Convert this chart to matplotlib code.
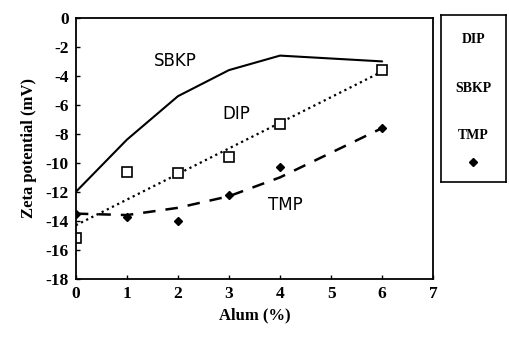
import numpy as np
import matplotlib
matplotlib.use('Agg')
from matplotlib import pyplot as plt

plt.rcParams['axes.unicode_minus'] = False

# values
alum = [0, 1, 2, 3, 4, 6]
sbkp = [-12.0, -8.4, -5.4, -3.6, -2.6, -3.0]
dip = [-15.2, -10.6, -10.7, -9.6, -7.3, -3.6]
dip_line_x = [0, 6]
dip_line_y = [-14.3, -3.7]
tmp = [-13.5, -13.7, -14.0, -12.2, -10.3, -7.6]
tmp_curve = [-13.5, -13.6, -13.1, -12.3, -11.0, -7.6]

xticks = [0, 1, 2, 3, 4, 5, 6, 7]
yticks = [0, -2, -4, -6, -8, -10, -12, -14, -16, -18]

serif = 'Liberation Serif'

fig = plt.figure(figsize=(5.09, 3.38), dpi=100)
ax = fig.add_axes([0.149, 0.175, 0.702, 0.772])

ax.plot(alum, sbkp, color='black', lw=1.5, solid_capstyle='round')
ax.plot(dip_line_x, dip_line_y, color='black', lw=1.6, linestyle=(0, (1, 1.6)))
ax.plot(alum, dip, linestyle='none', marker='s', ms=6.5, mfc='white', mec='black', mew=1.2)
ax.plot(alum, tmp_curve, color='black', lw=1.8, linestyle=(0, (5, 4)))
ax.plot(alum, tmp, linestyle='none', marker='D', ms=4, color='black')

ax.text(1.95, -3.0, 'SBKP', fontsize=12, ha='center', va='center', family='DejaVu Sans')
ax.text(3.15, -6.6, 'DIP', fontsize=12, ha='center', va='center', family='DejaVu Sans')
ax.text(4.1, -12.9, 'TMP', fontsize=12, ha='center', va='center', family='DejaVu Sans')

ax.set_xlim(0, 7)
ax.set_ylim(-18, 0)
ax.set_xticks(xticks)
ax.set_yticks(yticks)
ax.tick_params(direction='in', length=3, width=1, labelsize=12.5, pad=5)
for lab in ax.get_xticklabels() + ax.get_yticklabels():
    lab.set_fontfamily(serif)
    lab.set_fontweight('bold')
for sp in ax.spines.values():
    sp.set_linewidth(1.3)

ax.set_xlabel('Alum (%)', fontsize=12, fontweight='bold', family=serif, labelpad=4)
ax.set_ylabel('Zeta potential (mV)', fontsize=12, fontweight='bold', family=serif, labelpad=6)

# legend box drawn as a separate axes
lg = fig.add_axes([0.866, 0.462, 0.128, 0.494])
lg.set_xticks([]), lg.set_yticks([])
lg.set_xlim(0, 1), lg.set_ylim(0, 1)
for sp in lg.spines.values():
    sp.set_linewidth(1.2)
lg.text(0.5, 0.85, 'DIP', ha='center', va='center', fontsize=10, fontweight='bold', family=serif)
lg.text(0.5, 0.56, 'SBKP', ha='center', va='center', fontsize=10, fontweight='bold', family=serif)
lg.text(0.5, 0.28, 'TMP', ha='center', va='center', fontsize=10, fontweight='bold', family=serif)
lg.plot([0.5], [0.12], marker='D', ms=4, color='black')

fig.savefig('out.png', dpi=100)
